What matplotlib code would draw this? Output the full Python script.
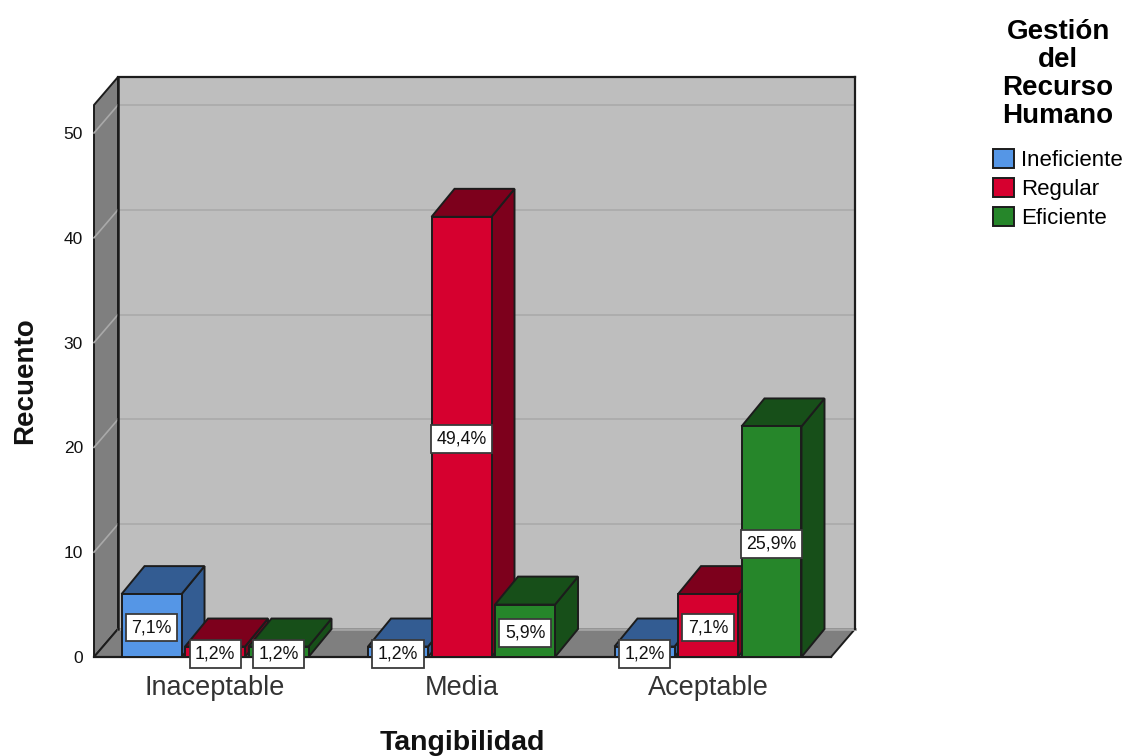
import matplotlib
matplotlib.use("Agg")
import matplotlib.pyplot as plt
from matplotlib.patches import Polygon, Patch

plt.rcParams['font.family'] = ['Liberation Sans', 'DejaVu Sans']

categories = ["Inaceptable", "Media", "Aceptable"]
series = ["Ineficiente", "Regular", "Eficiente"]
ineficiente = [6, 1, 1]
regular = [1, 42, 6]
eficiente = [1, 5, 22]
labels_ineficiente = ["7,1%", "1,2%", "1,2%"]
labels_regular = ["1,2%", "49,4%", "7,1%"]
labels_eficiente = ["1,2%", "5,9%", "25,9%"]
yticks = [0, 10, 20, 30, 40, 50]

values = [ineficiente, regular, eficiente]
texts = [labels_ineficiente, labels_regular, labels_eficiente]
front = ["#5596e6", "#d6002f", "#26862a"]
top = ["#335c92", "#7d001c", "#174f19"]
side = ["#335c92", "#7d001c", "#174f19"]
line = "#1c1c1c"

W, H = 1125, 756
fig = plt.figure(figsize=(W / 100, H / 100), dpi=100)
# front plane of the chart: x 94-831 px, y 105-657 px
ax = fig.add_axes([94 / W, 1 - 657 / H, 737 / W, 552 / H])
ax.set_xlim(-0.491, 2.499)
ax.set_ylim(0, 52.67)
ax.patch.set_visible(False)
for s in ax.spines.values():
    s.set_visible(False)

# depth of the fake 3D, in data units
dx = 24 / 246.5
dy = 28 / 10.48
bdx = 23 / 246.5
bdy = 28 / 10.48
xa, xb = ax.get_xlim()
ya, yb = ax.get_ylim()


def poly(pts, fc, ec=line, lw=1.4, z=1):
    ax.add_patch(Polygon(pts, closed=True, facecolor=fc, edgecolor=ec, linewidth=lw,
                         clip_on=False, zorder=z, joinstyle="miter"))


# walls and floor
poly([(xa + dx, dy), (xb + dx, dy), (xb + dx, yb + dy), (xa + dx, yb + dy)], "#bebebe")
poly([(xa, 0), (xa + dx, dy), (xa + dx, yb + dy), (xa, yb)], "#7f7f7f")
poly([(xa, 0), (xb, 0), (xb + dx, dy), (xa + dx, dy)], "#7f7f7f")
ax.plot([xa + dx, xb + dx], [dy, dy], color="#a4a4a4", lw=2, zorder=1.5, clip_on=False)
ax.plot([xa, xb], [0, 0], color=line, lw=1.6, zorder=1.5, clip_on=False)

# gridlines on side and back wall
for t in yticks[1:]:
    ax.plot([xa, xa + dx], [t, t + dy], color="#a9a9a9", lw=1.2, zorder=1.5, clip_on=False)
    ax.plot([xa + dx, xb + dx], [t + dy, t + dy], color="#adadad", lw=1.4, zorder=1.5,
            clip_on=False)
ax.plot([xa + dx, xb + dx], [yb + dy, yb + dy], color=line, lw=1.6, zorder=1.6, clip_on=False)
ax.plot([xa + dx, xa + dx], [dy, yb + dy], color=line, lw=1.8, zorder=1.6, clip_on=False)
ax.plot([xb + dx, xb + dx], [dy, yb + dy], color=line, lw=1.6, zorder=1.6, clip_on=False)

# bars, left to right so later fronts hide earlier sides
w = 60 / 246.5
step = 63.5 / 246.5
z = 2
for c in range(len(categories)):
    for i in range(len(series)):
        v = values[i][c]
        x0 = c + (i - 1) * step - w / 2
        x1 = x0 + w
        poly([(x1, 0), (x1 + bdx, bdy), (x1 + bdx, v + bdy), (x1, v)], side[i], z=z)
        poly([(x0, v), (x1, v), (x1 + bdx, v + bdy), (x0 + bdx, v + bdy)], top[i], z=z)
        poly([(x0, 0), (x1, 0), (x1, v), (x0, v)], front[i], z=z)
        z += 0.01
        ax.annotate(texts[i][c], ((x0 + x1) / 2, v / 2), xytext=(0, -1.5),
                    textcoords="offset points", ha="center", va="center", fontsize=12.8,
                    color="#111111", zorder=10, annotation_clip=False,
                    bbox=dict(boxstyle="square,pad=0.3", fc="white", ec="#3a3a3a", lw=1.3))

ax.set_xticks(range(len(categories)))
ax.set_xticklabels(categories, fontsize=19.5, color="#333333")
ax.set_yticks(yticks)
ax.set_yticklabels(yticks, fontsize=12.5, color="#111111")
ax.tick_params(axis="x", length=0, pad=13)
ax.tick_params(axis="y", length=0, pad=8)
ax.set_xlabel("Tangibilidad", fontsize=20.5, fontweight="bold", labelpad=21, color="#111111")
ax.set_ylabel("Recuento", fontsize=20, fontweight="bold", labelpad=18, color="#111111")

handles = [Patch(facecolor=front[i], edgecolor=line, linewidth=1.4, label=series[i])
           for i in range(len(series))]
leg = fig.legend(handles=handles, title="Gestión\ndel\nRecurso\nHumano", loc="upper left",
                 bbox_to_anchor=(990 / W, 1 - 16 / H), frameon=False, fontsize=16,
                 title_fontproperties=dict(size=20, weight="bold"), handlelength=0.95,
                 handleheight=0.95, handletextpad=0.3, labelspacing=0.3, borderpad=0.15,
                 borderaxespad=0, alignment="center")
leg.get_title().set_linespacing(1.1)
leg.get_title().set_multialignment("center")
leg._legend_box.sep = 14

fig.savefig("out.png", dpi=100)
